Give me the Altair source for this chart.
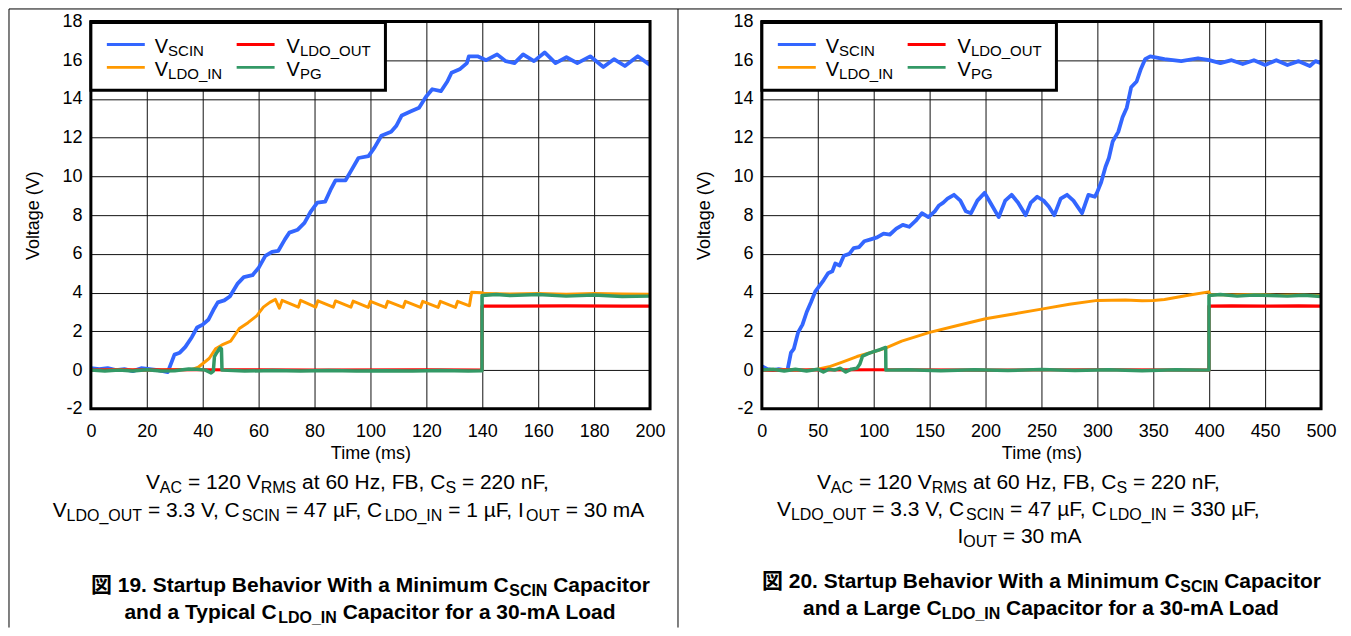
import altair as alt
import pandas as pd

# ---------------- series metadata ----------------
SERIES = ["VSCIN", "VLDO_IN", "VLDO_OUT", "VPG"]
SERIES_SUB = ["SCIN", "LDO_IN", "LDO_OUT", "PG"]
COLORS = ["#3366FF", "#FF9900", "#FF0000", "#339966"]

X_TICKS_L = [0, 20, 40, 60, 80, 100, 120, 140, 160, 180, 200]
X_TICKS_R = [0, 50, 100, 150, 200, 250, 300, 350, 400, 450, 500]
Y_TICKS = [-2, 0, 2, 4, 6, 8, 10, 12, 14, 16, 18]

# ---------------- left panel (Figure 19), t in ms, V in volts ----------------
L_SCIN_T = [0, 3, 6, 9, 12, 15, 18, 21, 24, 27.5, 29.9, 31.8, 33.8, 36.1, 38, 40, 42, 43.8, 45.4, 47.7,
            49.7, 52.4, 54.7, 57.8, 60.1, 62.4, 64.8, 67, 69.4, 71, 74, 76.4, 78.7, 81, 83.8, 85.7, 87.5,
            91.1, 93.1, 95.7, 99.3, 101.5, 103.9, 107.4, 109.2, 111.2, 114.3, 117.4, 119.8, 122.1, 125.2,
            127.5, 129, 132.1, 134.5, 135.2, 138.3, 141.4, 145.3, 148.4, 151.5, 154.6, 158.5, 162.3, 166.2,
            170.1, 174, 178.6, 183.3, 187.1, 191, 195.6, 200]
L_SCIN_V = [0.1, 0.05, 0.1, 0.0, 0.05, -0.05, 0.1, 0.05, 0.0, -0.1, 0.8, 0.9, 1.2, 1.7, 2.2, 2.35, 2.6, 3.1,
            3.5, 3.6, 3.8, 4.45, 4.8, 4.9, 5.3, 5.9, 6.1, 6.15, 6.75, 7.1, 7.25, 7.6, 8.2, 8.65, 8.7, 9.3,
            9.8, 9.8, 10.3, 10.95, 11.05, 11.5, 12.1, 12.3, 12.6, 13.15, 13.35, 13.55, 14.1, 14.5, 14.4,
            14.9, 15.35, 15.55, 15.85, 16.2, 16.2, 16.0, 16.3, 15.95, 15.85, 16.3, 15.95, 16.4, 15.85,
            16.15, 15.85, 16.2, 15.65, 16.05, 15.7, 16.2, 15.75]

L_LDOIN_T = [0, 10, 20, 30, 36, 38.4, 42.3, 44.6, 46.9, 50, 53.1, 56.2, 59.3, 61.7, 64, 66, 67.4, 68.4,
             74.2, 75, 80.4, 81.2, 86.7, 87.5, 93, 93.8, 99.2, 100, 105.4, 106.2, 111.7, 112.5, 117.9,
             118.7, 124.2, 125, 130.4, 131.2, 135.4, 136.2, 139.8, 141, 150, 160, 170, 180, 190, 200]
L_LDOIN_V = [0, 0.02, 0, 0.02, 0.03, 0.15, 0.6, 1.1, 1.3, 1.5, 2.15, 2.45, 2.8, 3.25, 3.5, 3.65, 3.2, 3.6,
             3.25, 3.6, 3.25, 3.58, 3.25, 3.57, 3.25, 3.56, 3.24, 3.55, 3.24, 3.55, 3.24, 3.55, 3.24,
             3.55, 3.24, 3.55, 3.24, 3.55, 3.32, 4.02, 4.0, 3.95, 3.93, 3.95, 3.92, 3.95, 3.93, 3.92]

L_LDOOUT_T = [0, 40, 80, 120, 139.9, 139.9, 150, 170, 190, 200]
L_LDOOUT_V = [0, 0.02, 0, 0.02, 0, 3.3, 3.3, 3.32, 3.3, 3.3]

L_PG_T = [0, 5, 10, 15, 20, 25, 30, 35, 38, 41, 43, 43.8, 44.2, 45, 46.2, 46.7, 46.9, 55, 65, 75, 85, 95,
          105, 115, 125, 135, 139.9, 139.9, 145, 150, 160, 170, 180, 190, 200]
L_PG_V = [0, -0.05, 0, -0.05, 0.02, -0.05, -0.03, 0.06, 0.05, 0, -0.15, -0.05, 0.7, 0.9, 1.15, 1.1, 0,
          -0.05, -0.02, -0.04, -0.02, -0.05, -0.03, -0.05, -0.02, -0.04, -0.03, 3.85, 3.9, 3.85, 3.9,
          3.82, 3.88, 3.8, 3.82]

# ---------------- right panel (Figure 20) ----------------
R_SCIN_T = [0, 5, 10, 15, 20, 22.9, 26, 28.6, 32.4, 36.3, 40.1, 43.9, 47.7, 51.5, 55.3, 59.2, 63, 65.6,
            69.5, 73.3, 78.2, 82.1, 87, 91.6, 97.3, 103, 108.8, 114.5, 120.2, 126, 131.7, 137.4, 143.1,
            148.9, 154.6, 158.4, 162.2, 166, 171.8, 177.5, 182.4, 187, 192.7, 199.2, 204.2, 211.8, 217.6,
            223.3, 229, 235.9, 240.5, 246.2, 251.9, 256.5, 261.5, 267.2, 272.9, 278.6, 286.3, 292, 297.7,
            299.6, 303.4, 307.3, 310.3, 313.7, 318.7, 322.5, 326.3, 330.2, 335.1, 338.9, 342.7, 347.3,
            360, 375, 390, 400, 410, 420, 430, 440, 450, 460, 470, 480, 490, 495, 500]
R_SCIN_V = [0.2, 0.05, 0.0, 0.05, 0.0, 0.0, 0.9, 1.1, 1.95, 2.35, 3.0, 3.5, 4.05, 4.35, 4.65, 5.0, 5.1,
            5.5, 5.4, 5.9, 6.0, 6.3, 6.35, 6.65, 6.75, 6.85, 7.05, 7.0, 7.3, 7.5, 7.4, 7.7, 8.1, 7.9, 8.2,
            8.5, 8.65, 8.85, 9.05, 8.75, 8.2, 8.1, 8.75, 9.15, 8.65, 7.9, 8.75, 9.05, 8.65, 8.0, 8.65,
            8.95, 8.75, 8.45, 8.0, 8.85, 9.05, 8.75, 8.1, 9.05, 8.95, 9.15, 9.7, 10.5, 10.95, 11.8, 12.3,
            13.05, 13.55, 14.6, 14.9, 15.55, 16.05, 16.2, 16.05, 15.95, 16.1, 16.0, 15.85, 16.0, 15.8,
            16.0, 15.75, 16.0, 15.75, 15.95, 15.7, 15.95, 15.85]

R_LDOIN_T = [0, 20, 40, 50, 60, 72.5, 85, 100, 111, 125, 150, 175, 200, 225, 250, 275, 300, 325, 340,
             350, 360, 380, 399.5, 401, 420, 440, 460, 480, 500]
R_LDOIN_V = [0, 0.02, 0.0, 0.05, 0.17, 0.43, 0.7, 0.95, 1.15, 1.5, 1.95, 2.3, 2.65, 2.9, 3.15, 3.4, 3.6,
             3.62, 3.58, 3.6, 3.65, 3.85, 4.04, 3.9, 3.88, 3.9, 3.87, 3.88, 3.85]

R_LDOOUT_T = [0, 100, 200, 300, 399.8, 399.8, 420, 450, 480, 500]
R_LDOOUT_V = [0, 0.02, 0, 0.02, 0, 3.3, 3.32, 3.3, 3.32, 3.3]

R_PG_T = [0, 10, 20, 30, 40, 50, 55, 60, 65, 70, 75, 80, 85, 87.5, 90, 95, 100, 105, 110.7, 110.9, 130,
          160, 190, 220, 250, 280, 310, 340, 370, 399.8, 399.8, 410, 425, 440, 455, 470, 485, 500]
R_PG_V = [0, 0.05, -0.05, 0.05, -0.05, 0.05, -0.1, 0.05, 0.0, 0.1, -0.1, 0.05, 0.1, 0.3, 0.72, 0.85,
          0.95, 1.05, 1.17, 0, 0.02, -0.03, 0.02, -0.02, 0.03, -0.02, 0.02, -0.03, 0.02, 0, 3.85, 3.9,
          3.82, 3.88, 3.85, 3.82, 3.87, 3.8]

# ---------------- caption texts: (text, is_subscript) ----------------
CAP_L_PLAIN = [
    [("V", 0), ("AC", 1), (" = 120 V", 0), ("RMS", 1), (" at 60 Hz, FB, C", 0), ("S", 1), (" = 220 nF,", 0)],
    [("V", 0), ("LDO_OUT", 1), (" = 3.3 V, C", 0), ("SCIN", 1), (" = 47 µF, C", 0), ("LDO_IN", 1),
     (" = 1 µF, I", 0), ("OUT", 1), (" = 30 mA", 0)],
]
CAP_L_BOLD = [
    [("図 19. Startup Behavior With a Minimum C", 0), ("SCIN", 1), (" Capacitor", 0)],
    [("and a Typical C", 0), ("LDO_IN", 1), (" Capacitor for a 30-mA Load", 0)],
]
CAP_R_PLAIN = [
    [("V", 0), ("AC", 1), (" = 120 V", 0), ("RMS", 1), (" at 60 Hz, FB, C", 0), ("S", 1), (" = 220 nF,", 0)],
    [("V", 0), ("LDO_OUT", 1), (" = 3.3 V, C", 0), ("SCIN", 1), (" = 47 µF, C", 0), ("LDO_IN", 1),
     (" = 330 µF,", 0)],
    [("I", 0), ("OUT", 1), (" = 30 mA", 0)],
]
CAP_R_BOLD = [
    [("図 20. Startup Behavior With a Minimum C", 0), ("SCIN", 1), (" Capacitor", 0)],
    [("and a Large C", 0), ("LDO_IN", 1), (" Capacitor for a 30-mA Load", 0)],
]

# ---------------- layout / style ----------------
PLOT_W, PLOT_H = 560, 388
FONT = "Liberation Sans"
FONT_STACK = "Liberation Sans, Noto Sans CJK JP, sans-serif"
LINE_WIDTHS = [3.8, 3.0, 3.2, 3.5]

REG = {c: 556 for c in "0123456789"}
REG.update({' ': 278, ',': 278, '.': 278, '=': 584, '_': 556, '-': 333, 'A': 667, 'B': 667, 'C': 722,
            'D': 722, 'F': 611, 'G': 778, 'H': 722, 'I': 278, 'L': 556, 'M': 833, 'N': 722, 'O': 778,
            'P': 667, 'R': 722, 'S': 667, 'T': 611, 'U': 722, 'V': 667, 'a': 556, 'n': 556, 'm': 833,
            't': 278, 'z': 500, 'µ': 576})
BOLD = {c: 556 for c in "0123456789"}
BOLD.update({' ': 278, '.': 278, '-': 333, '_': 556, 'A': 722, 'B': 722, 'C': 722, 'D': 722, 'E': 667,
             'F': 611, 'G': 778, 'I': 278, 'L': 611, 'M': 833, 'N': 722, 'O': 778, 'P': 667, 'R': 722,
             'S': 667, 'T': 611, 'W': 944, 'a': 556, 'b': 611, 'c': 556, 'd': 611, 'e': 556, 'f': 333,
             'g': 611, 'h': 611, 'i': 278, 'k': 556, 'l': 278, 'm': 889, 'n': 611, 'o': 611, 'p': 611,
             'r': 389, 's': 556, 't': 333, 'u': 611, 'v': 556, 'w': 778, 'x': 556, 'y': 556, '図': 1000})


def text_w(s, size, bold):
    tab = BOLD if bold else REG
    return sum(tab.get(ch, 556) for ch in s) * size / 1000.0


def layout_line(segs, size, sub_size, sub_dy, cx, base, bold):
    widths = [text_w(t, sub_size if sub else size, bold) for t, sub in segs]
    x = cx - sum(widths) / 2.0
    rows = []
    for (t, sub), w in zip(segs, widths):
        fs = sub_size if sub else size
        lead = len(t) - len(t.lstrip(' '))
        rows.append({"px": x + text_w(' ' * lead, fs, bold), "py": base + (sub_dy if sub else 0),
                     "txt": t.strip(), "fs": fs})
        x += w
    return rows


def long_df(pairs):
    rows = []
    for s, (ts, vs) in zip(SERIES, pairs):
        assert len(ts) == len(vs), s
        for i, (t, v) in enumerate(zip(ts, vs)):
            rows.append({"series": s, "t": t, "v": v, "i": i})
    return pd.DataFrame(rows)


def panel(pairs, xmax, xticks, plain, bold, plain_bases, bold_bases, rules):
    df = long_df(pairs)
    xs = alt.Scale(domain=[0, xmax], nice=False, zero=False)
    ys = alt.Scale(domain=[-2, 18], nice=False, zero=False)
    common = dict(grid=True, gridColor="#111111", gridWidth=1, domain=False, ticks=False, tickSize=0,
                  labelFontSize=18, titleFontSize=18, titleFontWeight="normal", labelColor="black",
                  titleColor="black", labelFlush=False, labelExpr="'' + datum.value", labelFont=FONT,
                  titleFont=FONT)
    xa = alt.Axis(values=xticks, title="Time (ms)", labelPadding=14, titlePadding=4, **common)
    ya = alt.Axis(values=Y_TICKS, title="Voltage (V)", labelPadding=9, titlePadding=19, **common)
    cscale = alt.Scale(domain=SERIES, range=COLORS)

    layers = []
    base = alt.Chart(df)
    for s, w in zip(SERIES, LINE_WIDTHS):
        layers.append(
            base.transform_filter(alt.datum.series == s)
            .mark_line(strokeWidth=w, strokeJoin="round")
            .encode(x=alt.X("t:Q", scale=xs, axis=xa),
                    y=alt.Y("v:Q", scale=ys, axis=ya),
                    color=alt.Color("series:N", scale=cscale, legend=None),
                    order="i:Q")
        )

    one = pd.DataFrame({"a": [0]})
    # plot frame
    layers.append(alt.Chart(one).mark_rect(filled=False, stroke="black", strokeWidth=3).encode(
        x=alt.value(0), x2=alt.value(PLOT_W), y=alt.value(0), y2=alt.value(PLOT_H)))
    # legend box
    layers.append(alt.Chart(one).mark_rect(fill="white", stroke="black", strokeWidth=3).encode(
        x=alt.value(0), x2=alt.value(295), y=alt.value(1), y2=alt.value(69)))

    # legend samples and texts
    lx = [16, 146]
    tx = [64, 196]
    ly = [23, 46]
    tb = [32, 55]
    pos = [(0, 0), (0, 1), (1, 0), (1, 1)]  # (col,row) for SCIN, LDO_IN, LDO_OUT, PG
    leg_lines, leg_txt = [], []
    for s, sub, (c, r) in zip(SERIES, SERIES_SUB, pos):
        leg_lines.append({"series": s, "x1": lx[c], "x2": lx[c] + 38, "y": ly[r]})
        leg_txt.append({"px": tx[c], "py": tb[r], "txt": "V", "fs": 20})
        leg_txt.append({"px": tx[c] + text_w("V", 20, False), "py": tb[r] + 2.5, "txt": sub, "fs": 15})
    layers.append(alt.Chart(pd.DataFrame(leg_lines)).mark_rule(strokeWidth=3).encode(
        x=alt.X("x1:Q", scale=None, axis=None), x2="x2:Q",
        y=alt.Y("y:Q", scale=None, axis=None),
        color=alt.Color("series:N", scale=cscale, legend=None)))

    txt_rows = list(leg_txt)
    for segs, b in zip(plain, plain_bases):
        txt_rows += layout_line(segs, 21, 16, 4, PLOT_W / 2 - 22, b, False)
    bold_rows = []
    for segs, b in zip(bold, bold_bases):
        bold_rows += layout_line(segs, 21, 16, 4, PLOT_W / 2, b, True)

    for rows, wt in [(txt_rows, "normal"), (bold_rows, "bold")]:
        layers.append(alt.Chart(pd.DataFrame(rows)).mark_text(
            align="left", baseline="alphabetic", font=FONT_STACK, fontWeight=wt, color="black").encode(
            x=alt.X("px:Q", scale=None, axis=None),
            y=alt.Y("py:Q", scale=None, axis=None),
            text="txt:N",
            size=alt.Size("fs:Q", scale=None, legend=None)))

    # panel box lines
    layers.append(alt.Chart(pd.DataFrame(rules)).mark_rule(strokeWidth=1, color="black").encode(
        x=alt.X("x:Q", scale=None, axis=None), x2="x2:Q",
        y=alt.Y("y:Q", scale=None, axis=None), y2="y2:Q"))

    return alt.layer(*layers).properties(width=PLOT_W, height=PLOT_H)


left = panel(
    [(L_SCIN_T, L_SCIN_V), (L_LDOIN_T, L_LDOIN_V), (L_LDOOUT_T, L_LDOOUT_V), (L_PG_T, L_PG_V)],
    200, X_TICKS_L, CAP_L_PLAIN, CAP_L_BOLD, [468, 496], [571, 598],
    [{"x": -82, "x2": -82, "y": -12.5, "y2": 607},
     {"x": 588, "x2": 588, "y": -12.5, "y2": 607},
     {"x": -82, "x2": 588, "y": -12.5, "y2": -12.5}],
)
right = panel(
    [(R_SCIN_T, R_SCIN_V), (R_LDOIN_T, R_LDOIN_V), (R_LDOOUT_T, R_LDOOUT_V), (R_PG_T, R_PG_V)],
    500, X_TICKS_R, CAP_R_PLAIN, CAP_R_BOLD, [468, 495, 522], [567, 594],
    [{"x": -84, "x2": 581, "y": -12.5, "y2": -12.5}],
)

chart = (
    alt.hconcat(left, right, spacing=112, bounds="flush")
    .properties(padding=0)
    .configure(font=FONT)
    .configure_view(strokeOpacity=0)
)

chart.save("out.html", embed_options={"renderer": "svg", "actions": False})
